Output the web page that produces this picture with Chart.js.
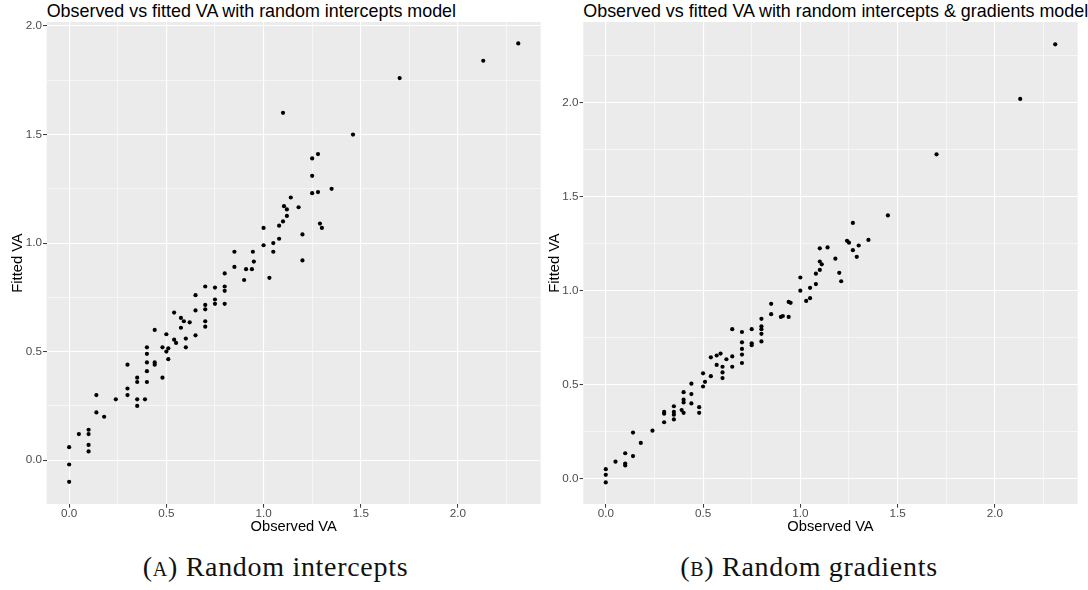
<!DOCTYPE html>
<html><head><meta charset="utf-8">
<script src="https://cdn.jsdelivr.net/npm/chart.js@4/dist/chart.umd.min.js"></script>
<style>
html,body{margin:0;padding:0;background:#fff;width:1088px;height:590px;overflow:hidden;position:relative;}
.ttl{position:absolute;top:1px;font-family:'Liberation Sans',Arial,sans-serif;font-size:17.9px;line-height:20px;white-space:nowrap;color:#000;}
.cap{position:absolute;top:552.6px;font-family:'Liberation Serif',serif;font-size:28px;line-height:28px;white-space:nowrap;letter-spacing:0.7px;transform:translateX(-50%);color:#111;}
.sc{font-variant:small-caps;}
canvas{position:absolute;top:0;}
</style></head><body>
<div class="ttl" id="tA" style="left:46.7px"></div>
<div class="ttl" id="tB" style="left:583.3px"></div>
<canvas id="cA" width="545" height="540" style="left:0;width:545px;height:540px"></canvas>
<canvas id="cB" width="543" height="540" style="left:545px;width:543px;height:540px"></canvas>
<div class="cap" id="capA" style="left:275.5px"></div>
<div class="cap" id="capB" style="left:809px"></div>
<script>
// ---- data ----
const obsA = [0,0,0,0.05,0.10,0.10,0.10,0.10,0.14,0.14,0.18,0.24,0.30,0.30,0.30,0.35,0.35,0.35,0.35,0.39,0.40,0.40,0.40,0.40,0.40,0.44,0.44,0.44,0.48,0.48,0.50,0.50,0.51,0.51,0.54,0.54,0.55,0.575,0.575,0.59,0.60,0.60,0.62,0.65,0.65,0.65,0.70,0.70,0.70,0.70,0.70,0.75,0.75,0.75,0.80,0.80,0.80,0.80,0.85,0.85,0.90,0.91,0.94,0.945,0.95,1.03,1.00,1.00,1.05,1.05,1.08,1.08,1.10,1.10,1.105,1.12,1.12,1.14,1.18,1.20,1.20,1.25,1.28,1.25,1.25,1.28,1.35,1.29,1.30,1.46,1.70,2.13,2.31];
const fitA = [-0.10,-0.02,0.06,0.12,0.14,0.12,0.07,0.04,0.30,0.22,0.20,0.28,0.33,0.30,0.44,0.38,0.36,0.28,0.25,0.28,0.52,0.49,0.45,0.41,0.36,0.60,0.45,0.44,0.52,0.38,0.58,0.50,0.515,0.465,0.68,0.555,0.54,0.655,0.61,0.64,0.56,0.52,0.635,0.76,0.69,0.575,0.80,0.715,0.695,0.64,0.615,0.795,0.74,0.72,0.86,0.80,0.78,0.72,0.89,0.96,0.83,0.88,0.88,0.96,0.915,0.84,1.07,0.99,1.00,0.96,1.08,1.02,1.10,1.60,1.17,1.155,1.125,1.21,1.165,1.04,0.92,1.39,1.41,1.31,1.23,1.235,1.25,1.09,1.07,1.50,1.76,1.84,1.92];
const obsB = [0,0,0,0.05,0.10,0.10,0.10,0.14,0.14,0.18,0.24,0.30,0.30,0.30,0.35,0.35,0.35,0.35,0.40,0.40,0.40,0.39,0.40,0.44,0.44,0.44,0.48,0.48,0.50,0.51,0.50,0.54,0.54,0.57,0.59,0.57,0.60,0.60,0.60,0.62,0.65,0.65,0.65,0.70,0.70,0.70,0.70,0.70,0.75,0.75,0.75,0.80,0.80,0.80,0.80,0.80,0.85,0.85,0.90,0.91,0.94,0.94,0.95,1.00,1.00,1.03,1.05,1.05,1.08,1.08,1.10,1.10,1.11,1.10,1.14,1.18,1.20,1.21,1.24,1.25,1.27,1.27,1.29,1.30,1.35,1.45,1.70,2.13,2.31];
const fitB = [-0.02,0.02,0.05,0.09,0.135,0.08,0.07,0.245,0.12,0.19,0.255,0.355,0.345,0.30,0.385,0.355,0.34,0.315,0.46,0.42,0.405,0.365,0.35,0.505,0.45,0.40,0.38,0.35,0.56,0.515,0.49,0.645,0.545,0.655,0.665,0.605,0.595,0.565,0.535,0.635,0.795,0.65,0.595,0.78,0.725,0.69,0.66,0.615,0.795,0.72,0.71,0.85,0.81,0.795,0.77,0.73,0.93,0.875,0.86,0.865,0.86,0.94,0.935,1.07,1.00,0.945,1.015,0.96,1.035,1.09,1.11,1.155,1.14,1.225,1.23,1.17,1.095,1.05,1.265,1.255,1.36,1.215,1.18,1.24,1.27,1.40,1.725,2.02,2.31];
const majorTicks = [0, 0.5, 1.0, 1.5, 2.0];
const minorTicks = [0.25, 0.75, 1.25, 1.75, 2.25];
const tickLabels = ['0.0', '0.5', '1.0', '1.5', '2.0'];
const titles = ['Observed vs fitted VA with random intercepts model', 'Observed vs fitted VA with random intercepts & gradients model'];
const xTitle = 'Observed VA';
const yTitle = 'Fitted VA';
const captionLetters = ['A', 'B'];
const captionTexts = ['Random intercepts', 'Random gradients'];

// ---- text ----
document.getElementById('tA').textContent = titles[0];
document.getElementById('tB').textContent = titles[1];
['capA','capB'].forEach((id,i)=>{
  const el=document.getElementById(id);
  el.append('(');
  const s=document.createElement('span'); s.className='sc'; s.textContent=captionLetters[i].toLowerCase(); el.append(s);
  el.append(') ' + captionTexts[i]);
});

const SANS = "'Liberation Sans', Arial, sans-serif";
function isMajor(v){ return majorTicks.some(m => Math.abs(m - v) < 1e-9); }
function labelFor(v){ const i = majorTicks.findIndex(m => Math.abs(m - v) < 1e-9); return i >= 0 ? tickLabels[i] : ''; }
function tv(c){ return c && c.tick ? c.tick.value : 0; }

const panelBg = { id:'panelBg', beforeDraw(c){ const a=c.chartArea, ctx=c.ctx; ctx.save(); ctx.fillStyle='#EBEBEB'; ctx.fillRect(a.left,a.top,a.right-a.left,a.bottom-a.top); ctx.restore(); } };

function axis(min, max, isX, size, titlePad){
  return {
    type:'linear', min:min, max:max,
    afterBuildTicks(s){ s.ticks = minorTicks.concat(majorTicks).filter(v => v >= min && v <= max).sort((a,b)=>a-b).map(v => ({value:v})); },
    afterFit(s){ if (isX) s.height = size; else s.width = size; },
    grid:{ color:'#FFFFFF', lineWidth: c => isMajor(tv(c)) ? 1.1 : 0.55, drawTicks:true, tickLength:3.7,
           tickColor: c => isMajor(tv(c)) ? '#333333' : 'rgba(0,0,0,0)', tickWidth:1 },
    border:{ display:false },
    ticks:{ autoSkip:false, maxRotation:0, minRotation:0, padding: isX ? 0 : 1, color:'#4D4D4D',
            font:{ family:SANS, size:11.7, lineHeight:1 }, callback: v => labelFor(v) },
    title:{ display:true, text: isX ? xTitle : yTitle, color:'#000',
            font:{ family:SANS, size:14.7, lineHeight:1.2 },
            padding: isX ? {top:0, bottom:titlePad} : {top:titlePad, bottom:0} }
  };
}

function makeChart(id, obs, fit, xr, yr, padRight, yWidth, yTitlePad){
  return new Chart(document.getElementById(id), {
    type:'scatter',
    data:{ datasets:[{ data: obs.map((x,i)=>({x:x, y:fit[i]})), pointRadius:2.1, pointHoverRadius:2.1,
                       pointBackgroundColor:'#000', pointBorderWidth:0, borderColor:'#000' }] },
    options:{
      responsive:false, animation:false, devicePixelRatio:1,
      layout:{ padding:{ left:0, top:22, right:padRight, bottom:0 } },
      plugins:{ legend:{display:false}, tooltip:{enabled:false}, title:{display:false} },
      scales:{ x: axis(xr[0], xr[1], true, 36, 4.7), y: axis(yr[0], yr[1], false, yWidth, yTitlePad) }
    },
    plugins:[panelBg]
  });
}

makeChart('cA', obsA, fitA, [-0.1155, 2.4255], [-0.202, 2.0185], 4.3, 46.7, 9.2);
makeChart('cB', obsB, fitB, [-0.1155, 2.4255], [-0.135, 2.429], 10.3, 38.3, 1.2);
</script>
</body></html>
